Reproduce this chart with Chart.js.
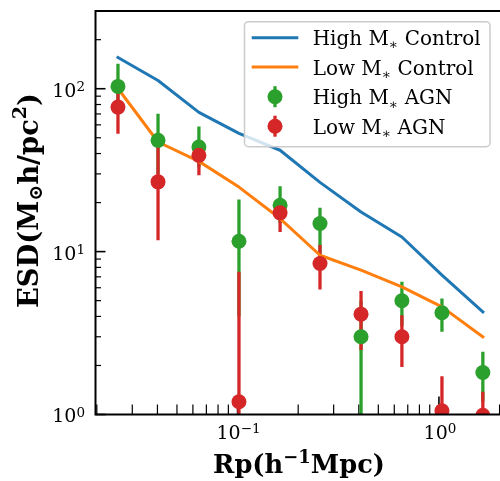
<!DOCTYPE html>
<html><head><meta charset="utf-8">
<script src="https://cdn.jsdelivr.net/npm/chart.js@4.4.0/dist/chart.umd.min.js"></script>
<style>html,body{margin:0;padding:0;background:#fff;}#wrap{width:500px;height:481px;}</style>
</head><body><div id="wrap"><canvas id="c" width="500" height="481"></canvas></div>
<script>
// ---- data ----
const rp = [0.02547, 0.04027, 0.06427, 0.1016, 0.1626, 0.2566, 0.4103, 0.6547, 1.035, 1.652];
const highControl = [155.6, 112.4, 71.6, 53.2, 41.9, 26.6, 17.5, 12.3, 7.17, 4.27];
const lowControl = [100.4, 47.1, 35.8, 24.9, 15.96, 9.50, 7.69, 6.08, 4.58, 3.00];
const highAGN = [103.3, 48.2, 43.8, 11.58, 19.26, 14.87, 3.00, 4.99, 4.21, 1.81];
const highAGNLow = [75, 30, 33, 4, 15, 9, 0.5, 3.5, 3.22, 1.2];
const highAGNHigh = [142.3, 70.3, 58.7, 20.9, 25.2, 18.6, 5.0, 6.52, 5.16, 2.43];
const lowAGN = [77.1, 26.8, 39.0, 1.198, 17.3, 8.45, 4.13, 3.00, 1.055, 0.99];
const lowAGNLow = [53.0, 11.75, 29.4, 0.5, 13.2, 5.86, 2.49, 1.96, 0.5, 0.5];
const lowAGNHigh = [98, 46, 44, 7.52, 19, 10.97, 5.74, 4.07, 1.72, 1.38];
const xTicks = [0.1, 1];
const xTickExp = ["\u22121", "0"];
const yTicks = [1, 10, 100];
const yTickExp = ["0", "1", "2"];
const legendNames = ["High", "Low", "High", "Low"];
const legendKinds = [" Control", " Control", " AGN", " AGN"];

const C_BLUE = '#1f77b4', C_ORANGE = '#ff7f0e', C_GREEN = '#2ca02c', C_RED = '#d62728';
const SERIF = '"DejaVu Serif", "Liberation Serif", serif';

function pts(ys) { return rp.map((x, i) => ({ x: x, y: ys[i] })); }

function richWidth(ctx, parts, size, weight) {
  let w = 0;
  for (const p of parts) { ctx.font = `${weight} ${size * (p.s || 1)}px ${SERIF}`; w += ctx.measureText(p.t).width; }
  return w;
}
function drawRich(ctx, parts, x, y, size, weight) {
  let cx = x;
  for (const p of parts) {
    ctx.font = `${weight} ${size * (p.s || 1)}px ${SERIF}`;
    ctx.fillText(p.t, cx, y + (p.dy || 0) * size);
    cx += ctx.measureText(p.t).width;
  }
}
function fitSize(ctx, parts, target, weight) {
  const w = richWidth(ctx, parts, 20, weight);
  return 20 * target / w;
}

const axesBelow = {
  id: 'axesBelow',
  beforeDatasetsDraw(chart) {
    const ctx = chart.ctx, a = chart.chartArea, xs = chart.scales.x, ys = chart.scales.y;
    ctx.save();
    ctx.strokeStyle = '#000';
    for (let d = -2; d <= 0; d++) {
      for (let k = 1; k <= 9; k++) {
        const v = k * Math.pow(10, d);
        if (v < xs.min || v > xs.max) continue;
        const px = xs.getPixelForValue(v);
        const major = k === 1;
        ctx.lineWidth = major ? 1.6 : 1.2;
        ctx.beginPath(); ctx.moveTo(px, a.bottom); ctx.lineTo(px, a.bottom - (major ? 18 : 10)); ctx.stroke();
      }
    }
    for (let d = 0; d <= 2; d++) {
      for (let k = 1; k <= 9; k++) {
        const v = k * Math.pow(10, d);
        if (v < ys.min || v > ys.max) continue;
        const py = ys.getPixelForValue(v);
        const major = k === 1;
        ctx.lineWidth = major ? 1.6 : 1.2;
        ctx.beginPath(); ctx.moveTo(a.left, py); ctx.lineTo(a.left + (major ? 10 : 5.5), py); ctx.stroke();
      }
    }
    // error bars (green first, red on top), beneath markers and lines
    ctx.beginPath(); ctx.rect(a.left, a.top, a.right - a.left, a.bottom - a.top); ctx.clip();
    ctx.lineWidth = 3.3; ctx.lineCap = 'butt';
    const bars = [[highAGNLow, highAGNHigh, C_GREEN], [lowAGNLow, lowAGNHigh, C_RED]];
    for (const [lo, hi, col] of bars) {
      ctx.strokeStyle = col;
      for (let i = 0; i < rp.length; i++) {
        const px = xs.getPixelForValue(rp[i]);
        const y1 = ys.getPixelForValue(Math.max(lo[i], 0.01));
        const y2 = ys.getPixelForValue(hi[i]);
        ctx.beginPath(); ctx.moveTo(px, y1); ctx.lineTo(px, y2); ctx.stroke();
      }
    }
    ctx.restore();
  },
  afterDatasetsDraw(chart) {
    const ctx = chart.ctx, a = chart.chartArea, xs = chart.scales.x, ys = chart.scales.y;
    ctx.save();
    ctx.strokeStyle = '#000'; ctx.lineWidth = 2;
    ctx.beginPath();
    ctx.moveTo(a.right + 2, a.top); ctx.lineTo(a.left, a.top); ctx.lineTo(a.left, a.bottom); ctx.lineTo(a.right + 2, a.bottom);
    ctx.stroke();
    ctx.fillStyle = '#000'; ctx.textBaseline = 'alphabetic'; ctx.textAlign = 'left';
    const base = 19, sup = 13.5;
    for (let i = 0; i < yTicks.length; i++) {
      const py = ys.getPixelForValue(yTicks[i]);
      ctx.font = `${base}px ${SERIF}`; const w1 = ctx.measureText('10').width;
      ctx.font = `${sup}px ${SERIF}`; const w2 = ctx.measureText(yTickExp[i]).width;
      const x0 = a.left - 10.5 - w1 - w2, bl = py + 7.9;
      ctx.font = `${base}px ${SERIF}`; ctx.fillText('10', x0, bl);
      ctx.font = `${sup}px ${SERIF}`; ctx.fillText(yTickExp[i], x0 + w1, bl - 5.6);
    }
    for (let i = 0; i < xTicks.length; i++) {
      const px = xs.getPixelForValue(xTicks[i]);
      ctx.font = `${base}px ${SERIF}`; const w1 = ctx.measureText('10').width;
      ctx.font = `${sup}px ${SERIF}`; const w2 = ctx.measureText(xTickExp[i]).width;
      const x0 = px - (w1 + w2) / 2 + 1, bl = a.bottom + 24;
      ctx.font = `${base}px ${SERIF}`; ctx.fillText('10', x0, bl);
      ctx.font = `${sup}px ${SERIF}`; ctx.fillText(xTickExp[i], x0 + w1, bl - 5.6);
    }
    const xParts = [{ t: 'Rp(h' }, { t: '\u22121', s: 0.7, dy: -0.42 }, { t: 'Mpc)' }];
    let sz = fitSize(ctx, xParts, 172, 'bold');
    let w = richWidth(ctx, xParts, sz, 'bold');
    drawRich(ctx, xParts, 299 - w / 2, 473.3, sz, 'bold');
    const yParts = [{ t: 'ESD(M' }, { t: '\u2299', s: 0.7, dy: 0.15 }, { t: 'h/pc' }, { t: '2', s: 0.7, dy: -0.45 }, { t: ')' }];
    sz = fitSize(ctx, yParts, 215, 'bold');
    w = richWidth(ctx, yParts, sz, 'bold');
    ctx.save(); ctx.translate(38.3, 200.5); ctx.rotate(-Math.PI / 2);
    drawRich(ctx, yParts, -w / 2, 0, sz, 'bold');
    ctx.restore();
    ctx.restore();
  },
  afterDraw(chart) {
    const ctx = chart.ctx;
    ctx.save();
    const bx = 244.5, by = 21.7, bw = 245.5, bh = 125, r = 4;
    ctx.beginPath();
    ctx.moveTo(bx + r, by); ctx.lineTo(bx + bw - r, by); ctx.arcTo(bx + bw, by, bx + bw, by + r, r);
    ctx.lineTo(bx + bw, by + bh - r); ctx.arcTo(bx + bw, by + bh, bx + bw - r, by + bh, r);
    ctx.lineTo(bx + r, by + bh); ctx.arcTo(bx, by + bh, bx, by + bh - r, r);
    ctx.lineTo(bx, by + r); ctx.arcTo(bx, by, bx + r, by, r); ctx.closePath();
    ctx.fillStyle = 'rgba(255,255,255,0.8)'; ctx.fill();
    ctx.strokeStyle = '#cccccc'; ctx.lineWidth = 1.5; ctx.stroke();
    const centers = [37.7, 67.0, 96.7, 126.2];
    const baselines = [45, 74.5, 104.2, 133.5];
    const cols = [C_BLUE, C_ORANGE, C_GREEN, C_RED];
    for (let i = 0; i < 4; i++) {
      const cy = centers[i];
      if (i < 2) {
        ctx.strokeStyle = cols[i]; ctx.lineWidth = 3; ctx.lineCap = 'butt';
        ctx.beginPath(); ctx.moveTo(251.7, cy); ctx.lineTo(298.3, cy); ctx.stroke();
      } else {
        ctx.strokeStyle = cols[i]; ctx.lineWidth = 3.3;
        ctx.beginPath(); ctx.moveTo(275, cy - 10.5); ctx.lineTo(275, cy + 10.5); ctx.stroke();
        ctx.fillStyle = cols[i];
        ctx.beginPath(); ctx.arc(275, cy, 7.5, 0, Math.PI * 2); ctx.fill();
      }
    }
    ctx.fillStyle = '#000'; ctx.textBaseline = 'alphabetic'; ctx.textAlign = 'left';
    const ref = [{ t: 'High M' }, { t: '\u2217', s: 0.7, dy: 0.22 }, { t: ' Control' }];
    const lsz = fitSize(ctx, ref, 168, 'normal');
    for (let i = 0; i < 4; i++) {
      const parts = [{ t: legendNames[i] + ' M' }, { t: '\u2217', s: 0.7, dy: 0.22 }, { t: legendKinds[i] }];
      drawRich(ctx, parts, 312.7, baselines[i], lsz, 'normal');
    }
    ctx.restore();
  }
};

new Chart(document.getElementById('c').getContext('2d'), {
  type: 'scatter',
  data: {
    datasets: [
      { label: 'Low M* AGN', data: pts(lowAGN), showLine: false, pointRadius: 7.5, pointHoverRadius: 7.5,
        pointBackgroundColor: C_RED, pointBorderWidth: 0, borderColor: C_RED, clip: 0 },
      { label: 'High M* AGN', data: pts(highAGN), showLine: false, pointRadius: 7.5, pointHoverRadius: 7.5,
        pointBackgroundColor: C_GREEN, pointBorderWidth: 0, borderColor: C_GREEN, clip: 0 },
      { label: 'Low M* Control', data: pts(lowControl), showLine: true, pointRadius: 0, borderColor: C_ORANGE,
        borderWidth: 3, borderJoinStyle: 'round', borderCapStyle: 'square', tension: 0, clip: 0 },
      { label: 'High M* Control', data: pts(highControl), showLine: true, pointRadius: 0, borderColor: C_BLUE,
        borderWidth: 3, borderJoinStyle: 'round', borderCapStyle: 'square', tension: 0, clip: 0 }
    ]
  },
  options: {
    responsive: false, animation: false, devicePixelRatio: 1,
    layout: { autoPadding: false, padding: { left: 95.5, right: 0, top: 11, bottom: 66.5 } },
    scales: {
      x: { type: 'logarithmic', min: 0.0197, max: 2.01, display: false },
      y: { type: 'logarithmic', min: 1, max: 300, display: false }
    },
    plugins: { legend: { display: false }, tooltip: { enabled: false } },
    events: []
  },
  plugins: [axesBelow]
});
</script>
</body></html>
